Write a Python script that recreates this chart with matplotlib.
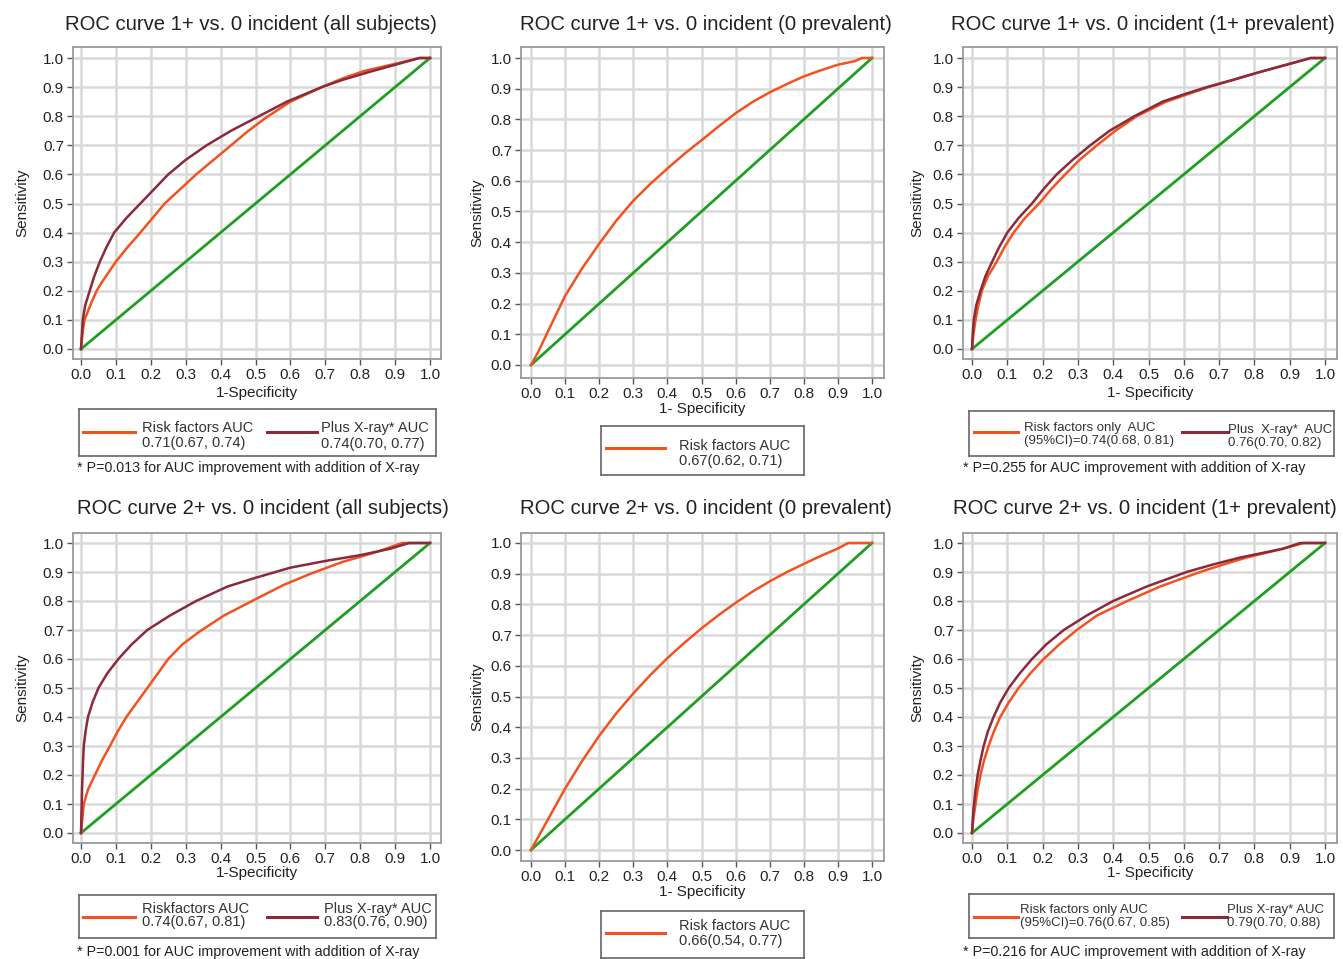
import numpy as np
import matplotlib
matplotlib.use('Agg')
import matplotlib.pyplot as plt

plt.rcParams['font.family'] = ['Liberation Sans', 'DejaVu Sans']

ORANGE = '#f2521f'
MAROON = '#8a2a3b'
GREEN = '#1f9f22'
GRID = '#d9d9d9'
FRAME = '#9a9a9a'

W, H = 1343, 959

# ---- curve data: (1-specificity, sensitivity) ----
# 1+ vs 0 incident, all subjects
p1_rf_fpr = [0.0, 0.005, 0.01, 0.02, 0.03, 0.045, 0.06, 0.08, 0.10, 0.13, 0.17, 0.205, 0.24, 0.285, 0.33,
             0.38, 0.43, 0.48, 0.53, 0.60, 0.69, 0.75, 0.81, 0.90, 0.97, 1.0]
p1_rf_tpr = [0.0, 0.06, 0.10, 0.13, 0.16, 0.20, 0.23, 0.265, 0.30, 0.345, 0.40, 0.45, 0.50, 0.55, 0.60,
             0.65, 0.70, 0.75, 0.795, 0.85, 0.90, 0.93, 0.955, 0.98, 1.0, 1.0]
p1_xr_fpr = [0.0, 0.003, 0.005, 0.012, 0.025, 0.038, 0.054, 0.073, 0.095, 0.13, 0.17, 0.21, 0.25, 0.30,
             0.36, 0.43, 0.51, 0.59, 0.69, 0.75, 0.82, 0.91, 0.97, 1.0]
p1_xr_tpr = [0.0, 0.06, 0.10, 0.15, 0.20, 0.25, 0.30, 0.35, 0.40, 0.45, 0.50, 0.55, 0.60, 0.65,
             0.70, 0.75, 0.80, 0.85, 0.90, 0.925, 0.95, 0.98, 1.0, 1.0]

# 1+ vs 0 incident, 0 prevalent
p2_rf_fpr = [0.0, 0.01, 0.02, 0.05, 0.10, 0.15, 0.20, 0.25, 0.30, 0.35, 0.40, 0.45, 0.50, 0.55, 0.60,
             0.65, 0.70, 0.75, 0.80, 0.85, 0.90, 0.95, 0.97, 1.0]
p2_rf_tpr = [0.0, 0.02, 0.04, 0.11, 0.225, 0.315, 0.395, 0.47, 0.535, 0.59, 0.64, 0.688, 0.732, 0.777, 0.82,
             0.857, 0.888, 0.915, 0.94, 0.96, 0.978, 0.99, 1.0, 1.0]

# 1+ vs 0 incident, 1+ prevalent
p3_rf_fpr = [0.0, 0.004, 0.01, 0.018, 0.028, 0.045, 0.07, 0.092, 0.118, 0.15, 0.19, 0.225, 0.264, 0.305,
             0.354, 0.406, 0.467, 0.55, 0.61, 0.67, 0.74, 0.81, 0.90, 0.96, 1.0]
p3_rf_tpr = [0.0, 0.05, 0.10, 0.15, 0.20, 0.25, 0.30, 0.35, 0.40, 0.45, 0.50, 0.55, 0.60, 0.65,
             0.70, 0.75, 0.80, 0.85, 0.875, 0.90, 0.925, 0.95, 0.98, 1.0, 1.0]
p3_xr_fpr = [0.0, 0.002, 0.005, 0.012, 0.024, 0.038, 0.057, 0.077, 0.10, 0.132, 0.17, 0.203, 0.24, 0.285,
             0.335, 0.39, 0.46, 0.54, 0.60, 0.665, 0.74, 0.81, 0.90, 0.96, 1.0]
p3_xr_tpr = [0.0, 0.05, 0.10, 0.15, 0.20, 0.25, 0.30, 0.35, 0.40, 0.45, 0.50, 0.55, 0.60, 0.65,
             0.70, 0.75, 0.80, 0.85, 0.875, 0.90, 0.925, 0.95, 0.98, 1.0, 1.0]

# 2+ vs 0 incident, all subjects
p4_rf_fpr = [0.0, 0.004, 0.008, 0.02, 0.04, 0.06, 0.083, 0.105, 0.13, 0.16, 0.19, 0.22, 0.25, 0.29,
             0.34, 0.41, 0.49, 0.58, 0.66, 0.75, 0.85, 0.92, 1.0]
p4_rf_tpr = [0.0, 0.05, 0.10, 0.15, 0.20, 0.25, 0.30, 0.35, 0.40, 0.45, 0.50, 0.55, 0.60, 0.65,
             0.695, 0.75, 0.80, 0.855, 0.895, 0.935, 0.97, 1.0, 1.0]
p4_xr_fpr = [0.0, 0.003, 0.006, 0.008, 0.013, 0.02, 0.033, 0.05, 0.075, 0.107, 0.145, 0.19, 0.255,
             0.33, 0.42, 0.50, 0.60, 0.70, 0.80, 0.885, 0.94, 1.0]
p4_xr_tpr = [0.0, 0.15, 0.25, 0.30, 0.35, 0.40, 0.45, 0.50, 0.55, 0.60, 0.65, 0.70, 0.75,
             0.80, 0.85, 0.88, 0.915, 0.938, 0.958, 0.98, 1.0, 1.0]

# 2+ vs 0 incident, 0 prevalent
p5_rf_fpr = [0.0, 0.02, 0.05, 0.10, 0.15, 0.20, 0.25, 0.30, 0.35, 0.40, 0.45, 0.50, 0.55, 0.60, 0.65,
             0.70, 0.75, 0.80, 0.85, 0.90, 0.93, 1.0]
p5_rf_tpr = [0.0, 0.04, 0.10, 0.20, 0.29, 0.372, 0.445, 0.51, 0.57, 0.625, 0.675, 0.722, 0.765, 0.805, 0.842,
             0.875, 0.905, 0.932, 0.958, 0.982, 1.0, 1.0]

# 2+ vs 0 incident, 1+ prevalent
p6_rf_fpr = [0.0, 0.004, 0.01, 0.016, 0.024, 0.034, 0.047, 0.062, 0.08, 0.104, 0.132, 0.165, 0.203, 0.247,
             0.297, 0.354, 0.44, 0.533, 0.646, 0.71, 0.778, 0.88, 0.94, 1.0]
p6_rf_tpr = [0.0, 0.05, 0.10, 0.15, 0.20, 0.25, 0.30, 0.35, 0.40, 0.45, 0.50, 0.55, 0.60, 0.65,
             0.70, 0.75, 0.80, 0.85, 0.90, 0.925, 0.95, 0.98, 1.0, 1.0]
p6_xr_fpr = [0.0, 0.004, 0.01, 0.016, 0.024, 0.033, 0.045, 0.061, 0.08, 0.104, 0.135, 0.17, 0.21, 0.26,
             0.325, 0.40, 0.495, 0.608, 0.68, 0.76, 0.88, 0.93, 1.0]
p6_xr_tpr = [0.0, 0.08, 0.15, 0.20, 0.25, 0.30, 0.35, 0.40, 0.45, 0.50, 0.55, 0.60, 0.65, 0.70,
             0.75, 0.80, 0.85, 0.90, 0.925, 0.95, 0.98, 1.0, 1.0]

titles = ['ROC curve 1+ vs. 0 incident (all subjects)',
          'ROC curve 1+ vs. 0 incident (0 prevalent)',
          'ROC curve 1+ vs. 0 incident (1+ prevalent)',
          'ROC curve 2+ vs. 0 incident (all subjects)',
          'ROC curve 2+ vs. 0 incident (0 prevalent)',
          'ROC curve 2+ vs. 0 incident (1+ prevalent)']
xlabels = ['1-Specificity', '1- Specificity', '1- Specificity',
           '1-Specificity', '1- Specificity', '1- Specificity']
rf_labels = ['Risk factors AUC\n0.71(0.67, 0.74)',
             'Risk factors AUC\n0.67(0.62, 0.71)',
             'Risk factors only  AUC\n(95%CI)=0.74(0.68, 0.81)',
             'Riskfactors AUC\n0.74(0.67, 0.81)',
             'Risk factors AUC\n0.66(0.54, 0.77)',
             'Risk factors only AUC\n(95%CI)=0.76(0.67, 0.85)']
xr_labels = ['Plus X-ray* AUC\n0.74(0.70, 0.77)', None,
             'Plus  X-ray*  AUC\n0.76(0.70, 0.82)',
             'Plus X-ray* AUC\n0.83(0.76, 0.90)', None,
             'Plus X-ray* AUC\n0.79(0.70, 0.88)']
footnotes = ['* P=0.013 for AUC improvement with addition of X-ray', None,
             '* P=0.255 for AUC improvement with addition of X-ray',
             '* P=0.001 for AUC improvement with addition of X-ray', None,
             '* P=0.216 for AUC improvement with addition of X-ray']
ticks = np.round(np.arange(0, 1.01, 0.1), 1)
tick_labels = ['%.1f' % t for t in ticks]

rf_curves = [(p1_rf_fpr, p1_rf_tpr), (p2_rf_fpr, p2_rf_tpr), (p3_rf_fpr, p3_rf_tpr),
             (p4_rf_fpr, p4_rf_tpr), (p5_rf_fpr, p5_rf_tpr), (p6_rf_fpr, p6_rf_tpr)]
xr_curves = [(p1_xr_fpr, p1_xr_tpr), None, (p3_xr_fpr, p3_xr_tpr),
             (p4_xr_fpr, p4_xr_tpr), None, (p6_xr_fpr, p6_xr_tpr)]

# ---- layout in pixels ----
# frame (left, right, top, bottom), data x at 0 and 1, data y at 1 and 0
frames = [(73, 441, 47, 359, 81, 430, 58, 349),
          (521, 884, 47, 378, 531, 872, 58, 365),
          (963, 1337, 47, 359, 972, 1325, 58, 349),
          (73, 441, 533, 843, 81, 430, 543, 833),
          (521, 884, 533, 861, 531, 872, 543, 850),
          (963, 1337, 533, 843, 972, 1325, 543, 833)]
title_pos = [(251, 25, 'center'), (706, 25, 'center'), (1143, 25, 'center'),
             (263, 508, 'center'), (706, 508, 'center'), (953, 508, 'left')]
title_size = [14.6, 14.6, 14.6, 14.6, 14.6, 14.6]
ylabel_x = [22, 477, 917, 22, 477, 917]
xlabel_y = [393, 409, 393, 873, 892, 873]
# legend box (l, r, t, b), fontsize, linespacing
leg_boxes = [(79, 436, 409, 456, 10.5, 1.15), (601, 804, 426, 475, 10.5, 1.15),
             (969, 1334, 411, 456, 9.5, 1.2), (79, 436, 895, 938, 10.5, 0.95),
             (601, 804, 911, 958, 10.5, 1.15), (969, 1334, 894, 938, 9.5, 1.2)]
# handle (x0, x1, y), text (x, y) for risk factors and x-ray entries
leg_rf = [(83, 135, 432, 142, 435.5), (606, 665, 448, 679, 453.5),
          (974, 1018, 432, 1024, 434.5), (83, 135, 917, 142, 915.5),
          (606, 665, 933, 679, 933.5), (974, 1018, 917, 1020, 916.5)]
leg_xr = [(267, 317, 432, 321, 436), None, (1182, 1228, 432, 1228, 436.5),
          (267, 317, 917, 324, 915.5), None, (1182, 1227, 917, 1227, 916.5)]
foot_pos = [(77, 468), None, (963, 468), (77, 952), None, (963, 952)]

fig = plt.figure(figsize=(W / 100, H / 100), dpi=100)
fig.patch.set_facecolor('white')

for i in range(6):
    L, R, T, B, x0, x1, y1, y0 = frames[i]
    ax = fig.add_axes([L / W, 1 - B / H, (R - L) / W, (B - T) / H])
    ax.set_xlim((L - x0) / (x1 - x0), (R - x0) / (x1 - x0))
    ax.set_ylim((y0 - B) / (y0 - y1), (y0 - T) / (y0 - y1))
    ax.set_xticks(ticks)
    ax.set_xticklabels(tick_labels)
    ax.set_yticks(ticks)
    ax.set_yticklabels(tick_labels)
    ax.grid(True, color=GRID, linewidth=1.8, zorder=0)
    ax.set_axisbelow(True)
    for sp in ax.spines.values():
        sp.set_color(FRAME)
        sp.set_linewidth(1.3)
    ax.tick_params(labelsize=11, length=4, width=1, color='#555555', pad=2.5,
                   labelcolor='#222222')

    ax.plot([0, 1], [0, 1], color=GREEN, linewidth=2, zorder=2)
    fx, ty = rf_curves[i]
    ax.plot(fx, ty, color=ORANGE, linewidth=1.8, zorder=3)
    if xr_curves[i] is not None:
        fx, ty = xr_curves[i]
        ax.plot(fx, ty, color=MAROON, linewidth=1.8, zorder=4)

    tx, tyy, ha = title_pos[i]
    fig.text(tx / W, 1 - tyy / H, titles[i], fontsize=title_size[i], ha=ha, va='center',
             color='#222222')
    fig.text(ylabel_x[i] / W, 1 - ((T + B) / 2) / H, 'Sensitivity', fontsize=11,
             rotation=90, ha='center', va='center', color='#222222')
    fig.text(((L + R) / 2) / W, 1 - xlabel_y[i] / H, xlabels[i], fontsize=11,
             ha='center', va='center', color='#222222')

    # legend box
    bl, br, bt, bb, fs, ls = leg_boxes[i]
    lax = fig.add_axes([bl / W, 1 - bb / H, (br - bl) / W, (bb - bt) / H])
    lax.set_xlim(bl, br)
    lax.set_ylim(bb, bt)
    lax.set_xticks([])
    lax.set_yticks([])
    for sp in lax.spines.values():
        sp.set_color('#666666')
        sp.set_linewidth(1.2)
    hx0, hx1, hy, txx, tyy = leg_rf[i]
    lax.plot([hx0, hx1], [hy, hy], color=ORANGE, linewidth=2.2)
    lax.text(txx, tyy, rf_labels[i], fontsize=fs, ha='left', va='center',
             linespacing=ls, color='#333333')
    if leg_xr[i] is not None:
        hx0, hx1, hy, txx, tyy = leg_xr[i]
        lax.plot([hx0, hx1], [hy, hy], color=MAROON, linewidth=2.2)
        lax.text(txx, tyy, xr_labels[i], fontsize=fs, ha='left', va='center',
                 linespacing=ls, color='#333333')

    if footnotes[i] is not None:
        fxp, fyp = foot_pos[i]
        fig.text(fxp / W, 1 - fyp / H, footnotes[i], fontsize=10.3, ha='left',
                 va='center', color='#222222')

plt.savefig('out.png', dpi=100)
